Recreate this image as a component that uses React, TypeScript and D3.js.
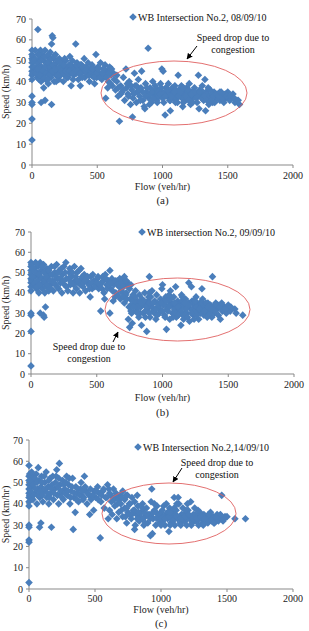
import React, { useEffect, useRef } from 'react'
import * as d3 from 'd3'

// flow (veh/hr), speed (km/h)
const pointsA: [number, number][] = [
  [0, 12], [0, 22], [0, 29], [0, 30], [0, 33], [0, 41], [0, 43], [0, 45], [0, 47], [0, 49], [0, 51], [0, 53], [0, 55], [5, 44], [5, 52],
  [25, 55], [30, 50], [35, 46], [40, 42], [45, 53], [45, 65], [50, 48], [55, 44], [60, 51], [65, 55], [70, 40], [75, 47], [80, 53],
  [85, 43], [90, 37], [90, 50], [95, 45], [100, 55], [105, 41], [110, 48], [115, 52], [120, 44], [125, 39], [130, 50], [135, 46],
  [140, 54], [145, 42], [150, 48], [150, 58], [155, 62], [160, 61], [160, 44], [165, 51], [170, 40], [175, 47], [180, 53], [185, 43],
  [190, 49], [200, 45], [205, 41], [210, 51], [215, 47], [220, 43], [230, 49], [235, 45], [240, 40], [250, 47], [255, 43], [260, 50],
  [270, 46], [275, 42], [285, 48], [290, 52], [295, 44], [300, 38], [305, 46], [310, 50], [320, 43], [325, 47], [335, 58], [340, 44],
  [345, 49], [355, 41], [360, 46], [370, 38], [375, 43], [380, 48], [390, 45], [400, 51], [405, 42], [415, 47], [420, 44], [430, 49],
  [440, 40], [445, 46], [455, 43], [460, 48], [470, 44], [480, 39], [485, 46], [490, 53], [495, 42], [505, 47], [515, 44], [525, 49],
  [535, 41], [545, 46], [555, 43], [560, 48], [565, 32], [575, 45], [585, 40], [595, 47], [605, 43], [615, 38], [625, 44],
  [70, 30], [100, 31], [150, 29],
  [15, 47], [20, 51], [30, 44], [40, 49], [50, 53], [55, 41], [60, 46], [70, 50], [80, 45], [90, 42], [95, 52], [105, 47], [110, 44],
  [120, 49], [125, 53], [130, 43], [140, 47], [145, 51], [155, 45], [165, 48], [170, 52], [180, 46], [185, 40], [195, 50], [200, 43],
  [210, 47], [220, 49], [225, 45], [240, 44], [245, 48], [250, 51], [260, 45], [265, 42], [280, 44], [285, 45], [300, 48], [310, 44],
  [315, 41], [330, 45], [340, 48], [350, 45], [365, 44], [370, 48], [385, 42], [395, 47], [410, 45], [425, 46], [435, 43], [450, 45],
  [465, 46], [475, 42], [500, 44], [510, 46], [520, 42], [540, 44], [550, 46], [570, 42], [590, 44], [610, 46], [630, 41], [650, 43],
  [600, 39], [580, 37], [120, 41], [60, 43], [40, 46], [10, 50],
  [640, 36], [650, 40], [660, 33], [670, 21], [680, 38], [690, 35], [700, 42], [710, 31], [720, 46], [725, 37], [735, 34], [745, 40],
  [755, 29], [765, 36], [770, 23], [775, 32], [785, 44], [790, 38], [800, 30], [805, 35], [815, 41], [825, 33], [835, 37], [840, 45],
  [850, 31], [860, 28], [865, 27], [870, 39], [880, 35], [890, 56], [895, 32], [905, 37], [915, 30], [925, 40], [935, 34], [945, 38],
  [955, 31], [965, 36], [975, 33], [985, 39], [995, 46], [1000, 35], [1005, 45], [1010, 30], [1020, 24], [1025, 37], [1035, 33],
  [1045, 39], [1055, 31], [1060, 26], [1065, 35], [1075, 37], [1085, 32], [1095, 38], [1105, 34], [1115, 30], [1120, 43], [1125, 36],
  [1135, 33], [1145, 38], [1155, 28], [1165, 35], [1175, 31], [1185, 37], [1195, 33], [1205, 39], [1215, 29], [1225, 35], [1235, 32],
  [1245, 37], [1255, 34], [1265, 30], [1275, 43], [1280, 27], [1285, 36], [1295, 33], [1305, 38], [1315, 31], [1325, 41], [1330, 26],
  [1335, 35], [1345, 32], [1355, 29], [1365, 36], [1375, 33], [1385, 30], [1395, 35], [1410, 32], [1425, 34], [1440, 31], [1455, 33],
  [1470, 30], [1485, 32], [1500, 35], [1515, 31], [1530, 33], [1540, 34], [1555, 30], [1570, 31], [1590, 29],
  [910, 34], [940, 36], [960, 33], [990, 37], [1030, 35], [1050, 34], [1080, 35], [1100, 36], [1130, 35], [1150, 32], [1170, 34],
  [1190, 35], [1210, 33], [1240, 35], [1260, 32], [1290, 34], [1310, 35], [1340, 34], [1360, 33], [1380, 34], [1400, 33], [1420, 32],
  [1450, 35], [1480, 34], [850, 35], [870, 33], [820, 36], [760, 38], [730, 39], [700, 36], [1230, 30], [1270, 33], [1160, 30],
  [1110, 32], [1060, 31], [1000, 32], [950, 35], [900, 29], [1350, 37], [1400, 30],
  [880, 37], [920, 35], [930, 32], [970, 35], [980, 34], [1010, 34], [1020, 33], [1040, 36], [1070, 33], [1090, 35], [1120, 33],
  [1140, 35], [1160, 37], [1180, 33], [1200, 36], [1220, 34], [1250, 35], [1280, 35], [1300, 32], [1320, 33], [1340, 31], [1370, 31],
  [1390, 33], [1410, 34], [1430, 33], [1460, 32], [1490, 33], [1520, 33], [1550, 32], [1580, 31], [1440, 35], [1200, 31], [1100, 30],
  [960, 30], [780, 34], [740, 33], [680, 34], [660, 37], [800, 38], [830, 31],
]

const pointsB: [number, number][] = [
  [0, 4], [0, 21], [0, 29], [0, 30], [0, 41], [0, 43], [0, 45], [0, 47], [0, 49], [0, 51], [0, 53], [0, 55], [5, 46], [5, 54],
  [20, 44], [25, 52], [30, 48], [35, 55], [40, 42], [45, 50], [50, 46], [55, 53], [60, 40], [65, 48], [70, 55], [70, 30], [75, 44],
  [80, 51], [85, 42], [90, 47], [95, 29], [95, 54], [100, 28], [100, 45], [105, 40], [110, 33], [110, 50], [115, 43], [120, 52],
  [130, 47], [135, 41], [140, 49], [150, 44], [155, 53], [165, 46], [170, 41], [180, 50], [185, 44], [195, 54], [200, 47], [210, 42],
  [215, 51], [225, 45], [235, 40], [240, 49], [250, 53], [255, 44], [265, 55], [270, 47], [280, 41], [290, 50], [300, 44], [310, 48],
  [320, 40], [330, 53], [335, 46], [345, 42], [350, 50], [360, 45], [370, 40], [380, 52], [385, 47], [395, 43], [405, 49], [415, 41],
  [425, 46], [440, 44], [450, 38], [455, 48], [465, 42], [480, 46], [490, 44], [505, 47], [515, 42], [530, 31], [535, 45], [545, 48],
  [555, 40], [560, 37], [565, 49], [575, 44], [590, 46], [600, 51], [600, 30], [605, 42], [615, 47], [625, 36], [630, 44], [645, 40],
  [655, 46], [670, 43], [685, 41], [700, 47], [710, 48], [720, 44], [735, 45], [750, 42],
  [10, 48], [15, 52], [25, 45], [35, 50], [45, 43], [50, 54], [60, 49], [65, 44], [80, 47], [85, 53], [100, 50], [105, 46], [115, 48],
  [125, 44], [135, 51], [145, 46], [150, 42], [160, 49], [175, 45], [180, 53], [190, 48], [200, 43], [205, 50], [220, 47], [230, 52],
  [245, 46], [260, 50], [270, 43], [285, 47], [295, 52], [305, 45], [315, 50], [325, 44], [340, 48], [355, 46], [365, 51], [375, 44],
  [390, 48], [400, 45], [410, 46], [430, 48], [445, 42], [460, 45], [470, 49], [485, 43], [500, 45], [510, 48], [525, 44], [540, 42],
  [550, 46], [570, 47], [580, 42], [595, 44], [610, 45], [620, 41], [640, 46], [660, 44], [675, 47], [690, 45], [705, 43], [725, 46],
  [740, 43], [760, 44], [640, 38], [660, 39], [680, 37], [700, 40], [720, 39],
  [700, 38], [710, 35], [725, 40], [740, 27], [745, 33], [750, 23], [755, 37], [765, 30], [770, 25], [775, 39], [785, 34], [795, 41],
  [800, 31], [810, 36], [820, 28], [825, 39], [835, 33], [840, 24], [845, 37], [855, 30], [865, 40], [875, 35], [880, 21], [885, 32],
  [895, 38], [900, 48], [905, 28], [910, 34], [920, 41], [930, 31], [940, 36], [950, 27], [955, 39], [965, 33], [975, 30], [985, 37],
  [995, 42], [1000, 44], [1005, 34], [1015, 29], [1025, 38], [1030, 22], [1035, 32], [1045, 36], [1055, 27], [1060, 41], [1065, 34],
  [1075, 30], [1085, 38], [1095, 33], [1100, 43], [1105, 28], [1115, 36], [1125, 31], [1135, 35], [1140, 24], [1145, 39], [1155, 29],
  [1165, 33], [1175, 37], [1185, 30], [1195, 35], [1200, 45], [1205, 26], [1215, 32], [1220, 43], [1225, 36], [1235, 29], [1245, 34],
  [1255, 38], [1265, 31], [1275, 27], [1285, 35], [1295, 32], [1300, 42], [1305, 37], [1315, 29], [1325, 33], [1335, 30], [1345, 35],
  [1355, 31], [1365, 34], [1375, 28], [1380, 48], [1385, 33], [1395, 30], [1405, 35], [1415, 32], [1425, 29], [1440, 27], [1445, 34],
  [1455, 31], [1470, 33], [1485, 30], [1500, 32], [1515, 31], [1550, 32], [1560, 30], [1610, 29],
  [800, 35], [820, 33], [850, 34], [870, 31], [890, 36], [920, 33], [940, 30], [960, 35], [980, 32], [1010, 36], [1040, 31],
  [1070, 35], [1090, 32], [1110, 34], [1130, 32], [1150, 34], [1170, 30], [1190, 33], [1210, 35], [1230, 32], [1250, 31], [1270, 34],
  [1290, 30], [1310, 33], [1340, 32], [1360, 30], [1390, 32], [1420, 34], [1460, 32], [780, 36], [760, 34], [730, 37], [830, 30],
  [900, 30], [1000, 31], [1080, 28], [1160, 27], [1240, 27],
  [790, 38], [810, 33], [840, 35], [860, 36], [880, 33], [900, 35], [910, 38], [930, 35], [950, 32], [970, 34], [990, 35], [1020, 34],
  [1030, 36], [1050, 33], [1060, 37], [1090, 35], [1100, 30], [1120, 33], [1140, 31], [1150, 36], [1170, 35], [1180, 32], [1200, 34],
  [1220, 30], [1240, 36], [1260, 33], [1280, 32], [1300, 35], [1320, 31], [1330, 35], [1350, 33], [1370, 32], [1400, 31], [1410, 34],
  [1430, 33], [1450, 35], [1480, 32], [1500, 34], [1520, 33], [960, 29], [1020, 28], [1120, 29], [1190, 28], [1260, 29], [1340, 28],
  [870, 28], [810, 30], [760, 31], [780, 33], [1050, 39], [1150, 38], [900, 40], [1250, 36],
]

const pointsC: [number, number][] = [
  [0, 3], [0, 22], [0, 23], [0, 29], [0, 30], [0, 39], [0, 41], [0, 43], [0, 45], [0, 47], [0, 49], [0, 51], [0, 53], [0, 58],
  [5, 54], [5, 44], [20, 48], [25, 53], [30, 42], [40, 50], [45, 45], [55, 54], [60, 40], [65, 47], [70, 57], [75, 51], [80, 29],
  [80, 43], [90, 31], [90, 48], [95, 53], [105, 41], [110, 46], [120, 50], [130, 55], [135, 43], [145, 48], [150, 40], [160, 52],
  [165, 45], [170, 29], [175, 49], [185, 42], [195, 47], [205, 53], [210, 56], [215, 44], [225, 40], [230, 59], [235, 49], [245, 45],
  [255, 51], [260, 42], [270, 47], [285, 53], [290, 44], [300, 49], [310, 40], [320, 46], [330, 52], [335, 28], [340, 43], [350, 36],
  [355, 48], [365, 45], [375, 41], [390, 47], [400, 44], [410, 42], [420, 53], [430, 46], [440, 40], [455, 44], [460, 35], [470, 42],
  [490, 37], [495, 46], [505, 43], [520, 48], [530, 45], [540, 24], [545, 41], [560, 46], [570, 38], [580, 43], [595, 49], [600, 33],
  [610, 45], [625, 41], [640, 47], [655, 43], [670, 40], [690, 44], [710, 46], [725, 42], [745, 44], [760, 40], [780, 43], [800, 41],
  [820, 44],
  [10, 46], [15, 51], [20, 55], [30, 49], [35, 44], [45, 52], [50, 47], [60, 50], [70, 44], [85, 46], [100, 50], [100, 44], [115, 53],
  [125, 47], [140, 45], [150, 51], [155, 43], [170, 47], [180, 53], [190, 45], [200, 50], [220, 48], [225, 52], [240, 46], [250, 43],
  [265, 49], [275, 45], [280, 50], [295, 46], [305, 52], [315, 43], [325, 48], [345, 45], [360, 42], [370, 47], [385, 44], [395, 50],
  [405, 46], [415, 43], [425, 48], [445, 45], [465, 47], [480, 44], [510, 46], [525, 42], [550, 44], [565, 47], [590, 43], [605, 47],
  [620, 44], [645, 42], [660, 45], [680, 42], [700, 43], [735, 44],
  [610, 37], [630, 35], [650, 39], [665, 33], [680, 36], [695, 40], [710, 34], [725, 38], [740, 31], [750, 36], [765, 40], [775, 33],
  [790, 37], [800, 28], [805, 30], [815, 35], [825, 39], [835, 32], [850, 36], [860, 40], [870, 30], [880, 34], [890, 38], [900, 31],
  [910, 35], [920, 25], [925, 41], [930, 47], [935, 26], [940, 33], [950, 37], [960, 30], [970, 39], [980, 34], [990, 31], [1000, 36],
  [1010, 32], [1020, 39], [1030, 30], [1040, 35], [1050, 33], [1060, 27], [1065, 38], [1075, 31], [1085, 36], [1095, 34], [1100, 43],
  [1105, 30], [1115, 37], [1125, 33], [1130, 43], [1135, 40], [1145, 31], [1155, 35], [1165, 38], [1175, 32], [1185, 35], [1195, 30],
  [1205, 37], [1215, 33], [1225, 41], [1235, 31], [1245, 35], [1255, 38], [1265, 32], [1275, 34], [1285, 30], [1295, 36], [1305, 33],
  [1315, 31], [1325, 35], [1335, 32], [1345, 34], [1355, 31], [1365, 33], [1375, 36], [1385, 32], [1395, 34], [1405, 31], [1415, 33],
  [1425, 35], [1435, 32], [1445, 34], [1455, 33], [1460, 44], [1470, 32], [1485, 34], [1500, 34], [1560, 33], [1640, 33],
  [900, 35], [930, 34], [960, 36], [990, 35], [1020, 34], [1050, 36], [1080, 33], [1110, 35], [1140, 34], [1170, 35], [1200, 33],
  [1230, 34], [1260, 35], [1290, 33], [1320, 34], [1350, 33], [870, 36], [840, 34], [780, 35], [730, 34], [1010, 37], [1100, 38],
  [1190, 37], [1280, 37],
  [700, 37], [760, 35], [800, 37], [830, 36], [860, 33], [880, 31], [920, 33], [940, 36], [970, 33], [1000, 33], [1030, 33], [1060, 34],
  [1070, 36], [1090, 32], [1120, 34], [1150, 33], [1180, 34], [1210, 35], [1240, 33], [1270, 33], [1300, 34], [1330, 33], [1360, 35],
  [1390, 33], [1420, 34], [1450, 35], [1480, 33], [1000, 30], [1070, 30], [1150, 30], [1230, 30], [1320, 30], [1400, 31], [950, 40],
  [1040, 40], [1200, 40], [1120, 40], [860, 38], [820, 33], [740, 38],
]

const flowTicks = [0, 500, 1000, 1500, 2000]
const speedTicks = [0, 10, 20, 30, 40, 50, 60, 70]
const legendA = 'WB Intersection No.2, 08/09/10'
const legendB = 'WB intersection No.2, 09/09/10'
const legendC = 'WB Intersection No.2,14/09/10'

const panels = [
  {
    data: pointsA, legend: legendA, yLabel: 'Speed (km/h)', tag: '(a)',
    x: [32, 293], y: [165, 19], legendPos: [133, 17], tickBase: 179, flowBase: 190, tagBase: 204,
    ellipse: [174, 93, 73, 32], note: [233, 41], arrow: [197, 46, 187, 59],
  },
  {
    data: pointsB, legend: legendB, yLabel: 'Speed (km/h)', tag: '(b)',
    x: [31, 294], y: [374, 232], legendPos: [142, 232], tickBase: 388, flowBase: 401, tagBase: 416,
    ellipse: [177.5, 309.5, 72.5, 31.5], note: [89, 350], arrow: [113, 342, 118, 332],
  },
  {
    data: pointsC, legend: legendC, yLabel: 'Speed (km/hr)', tag: '(c)',
    x: [29, 293], y: [589, 440], legendPos: [138, 447], tickBase: 602, flowBase: 613, tagBase: 627,
    ellipse: [169, 513.5, 67, 30.5], note: [217, 466], arrow: [182, 468, 173, 482],
  },
]

const blue = '#4a7ebb'
const axisGray = '#898989'
const font = '"Liberation Serif", "Times New Roman", serif'
const diamond = (r: number) => `M0,${-r}L${r},0L0,${r}L${-r},0Z`

export default function App() {
  const ref = useRef<SVGSVGElement>(null)

  useEffect(() => {
    const svg = d3.select(ref.current)
    svg.selectAll('*').remove()

    const defs = svg.append('defs')
    defs
      .append('marker')
      .attr('id', 'arrowhead')
      .attr('viewBox', '0 0 10 10')
      .attr('refX', 9)
      .attr('refY', 5)
      .attr('markerWidth', 6)
      .attr('markerHeight', 6)
      .attr('orient', 'auto')
      .append('path')
      .attr('d', 'M0,0L10,5L0,10Z')
      .attr('fill', '#000')

    panels.forEach(p => {
      const x = d3.scaleLinear().domain([0, 2000]).range(p.x)
      const y = d3.scaleLinear().domain([0, 70]).range(p.y)
      const g = svg.append('g').attr('font-family', font).attr('font-size', 10)

      // y axis
      g.append('line')
        .attr('x1', x(0)).attr('x2', x(0))
        .attr('y1', y(0)).attr('y2', y(70))
        .attr('stroke', axisGray)
      g.selectAll('.yt')
        .data(speedTicks)
        .join('line')
        .attr('x1', x(0) - 3).attr('x2', x(0))
        .attr('y1', d => y(d)).attr('y2', d => y(d))
        .attr('stroke', axisGray)
      g.selectAll('.yl')
        .data(speedTicks)
        .join('text')
        .attr('x', x(0) - 6)
        .attr('y', d => y(d) + 3.5)
        .attr('text-anchor', 'end')
        .attr('fill', '#222')
        .text(d => d)

      // x axis
      g.append('line')
        .attr('x1', x(0)).attr('x2', x(2000))
        .attr('y1', y(0)).attr('y2', y(0))
        .attr('stroke', axisGray)
      g.selectAll('.xt')
        .data(flowTicks)
        .join('line')
        .attr('x1', d => x(d)).attr('x2', d => x(d))
        .attr('y1', y(0)).attr('y2', y(0) + 3)
        .attr('stroke', axisGray)
      g.selectAll('.xl')
        .data(flowTicks)
        .join('text')
        .attr('x', d => x(d))
        .attr('y', p.tickBase)
        .attr('text-anchor', 'middle')
        .attr('fill', '#222')
        .text(d => d)

      // axis titles
      g.append('text')
        .attr('transform', `translate(${9},${y(35)}) rotate(-90)`)
        .attr('text-anchor', 'middle')
        .attr('fill', '#222')
        .text(p.yLabel)
      g.append('text')
        .attr('x', x(1000)).attr('y', p.flowBase)
        .attr('text-anchor', 'middle')
        .attr('fill', '#222')
        .text('Flow (veh/hr)')
      g.append('text')
        .attr('x', x(1000)).attr('y', p.tagBase)
        .attr('text-anchor', 'middle')
        .attr('font-size', 11)
        .attr('fill', '#222')
        .text(p.tag)

      // points
      g.append('g')
        .attr('fill', blue)
        .selectAll('path')
        .data(p.data)
        .join('path')
        .attr('transform', d => `translate(${x(d[0])},${y(d[1])})`)
        .attr('d', diamond(3.8))

      // congestion ellipse + note
      const [cx, cy, rx, ry] = p.ellipse
      g.append('ellipse')
        .attr('cx', cx).attr('cy', cy).attr('rx', rx).attr('ry', ry)
        .attr('fill', 'none')
        .attr('stroke', '#e06060')
        .attr('stroke-width', 0.9)
      g.append('text')
        .attr('x', p.note[0]).attr('y', p.note[1])
        .attr('text-anchor', 'middle')
        .attr('fill', '#111')
        .text('Speed drop due to')
      g.append('text')
        .attr('x', p.note[0]).attr('y', p.note[1] + 12)
        .attr('text-anchor', 'middle')
        .attr('fill', '#111')
        .text('congestion')
      g.append('line')
        .attr('x1', p.arrow[0]).attr('y1', p.arrow[1])
        .attr('x2', p.arrow[2]).attr('y2', p.arrow[3])
        .attr('stroke', '#000')
        .attr('stroke-width', 1)
        .attr('marker-end', 'url(#arrowhead)')

      // legend
      const [lx, ly] = p.legendPos
      g.append('path')
        .attr('transform', `translate(${lx},${ly})`)
        .attr('d', diamond(3.8))
        .attr('fill', blue)
      g.append('text')
        .attr('x', lx + 5).attr('y', ly + 3.5)
        .attr('fill', '#111')
        .text(p.legend)
    })
  }, [])

  return (
    <svg
      ref={ref}
      width={309}
      height={631}
      style={{ position: 'absolute', left: 0, top: 0, background: '#fff' }}
    />
  )
}
